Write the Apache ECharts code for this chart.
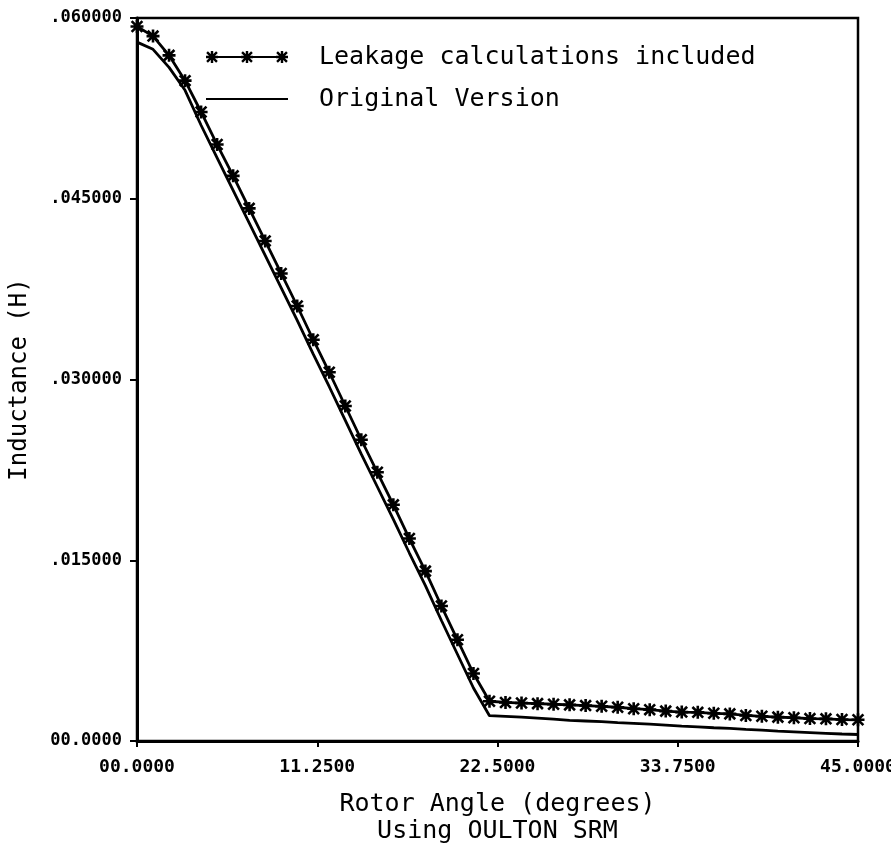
<!DOCTYPE html>
<html>
<head>
<meta charset="utf-8">
<script src="https://cdn.jsdelivr.net/npm/echarts@6/dist/echarts.min.js"></script>
<style>
  html, body { margin: 0; padding: 0; background: #fff; }
  #chart { width: 891px; height: 849px; }
</style>
</head>
<body>
<div id="chart"></div>
<script>
// rotor angle (degrees), one point per degree
const angles = [0, 1, 2, 3, 4, 5, 6, 7, 8, 9, 10, 11, 12, 13, 14, 15, 16, 17, 18, 19, 20, 21, 22,
  23, 24, 25, 26, 27, 28, 29, 30, 31, 32, 33, 34, 35, 36, 37, 38, 39, 40, 41, 42, 43, 44, 45];

// inductance (H) with leakage calculations
const leakage = [0.0593, 0.0585, 0.0569, 0.0548, 0.0522, 0.0495, 0.0469, 0.0442, 0.0415, 0.0388,
  0.0361, 0.0333, 0.0306, 0.0278, 0.0250, 0.0223, 0.0196, 0.0168, 0.0141, 0.0112, 0.0084, 0.0056,
  0.0033, 0.0032, 0.00315, 0.0031, 0.00305, 0.0030, 0.00294, 0.00288, 0.0028, 0.00268, 0.0026,
  0.00248, 0.0024, 0.00238, 0.0023, 0.00225, 0.00212, 0.00205, 0.00198, 0.00193, 0.00186,
  0.00184, 0.00178, 0.00176];

// inductance (H), original version
const original = [0.0580, 0.0574, 0.0559, 0.0540, 0.0511, 0.0484, 0.0457, 0.0430, 0.0403, 0.0376,
  0.0349, 0.0321, 0.0294, 0.0266, 0.0238, 0.0211, 0.0184, 0.0156, 0.0129, 0.0100, 0.0072, 0.0044,
  0.0021, 0.00205, 0.00198, 0.0019, 0.00182, 0.00172, 0.00166, 0.0016, 0.00152, 0.00146, 0.0014,
  0.00132, 0.00124, 0.00118, 0.0011, 0.00104, 0.00096, 0.0009, 0.00082, 0.00076, 0.0007,
  0.00064, 0.00058, 0.00054];

const xTickLabels = ['00.0000', '11.2500', '22.5000', '33.7500', '45.0000'];
const yTickLabels = ['00.0000', '.015000', '.030000', '.045000', '.060000'];

const seriesNames = ['Leakage calculations included', 'Original Version'];

const chart = echarts.init(document.getElementById('chart'));

// plotter style asterisk (12 x 12)
function star(cx) {
  const x = cx - 6;
  const p = (a, b) => (x + a) + ' ' + b;
  return 'M' + p(0, 4.8) + ' L' + p(12, 4.8) + ' L' + p(12, 7.2) + ' L' + p(0, 7.2) + ' Z ' +
    'M' + p(4.8, 0) + ' L' + p(7.2, 0) + ' L' + p(7.2, 12) + ' L' + p(4.8, 12) + ' Z ' +
    'M' + p(0.2, 1.9) + ' L' + p(1.9, 0.2) + ' L' + p(11.8, 10.1) + ' L' + p(10.1, 11.8) + ' Z ' +
    'M' + p(10.1, 0.2) + ' L' + p(11.8, 1.9) + ' L' + p(1.9, 11.8) + ' L' + p(0.2, 10.1) + ' Z ';
}
const starPath = 'path://' + star(6);
const legendPath = 'path://M0 5 L82 5 L82 7 L0 7 Z ' + star(6) + star(41) + star(76);

const mono = "'DejaVu Sans Mono', 'Liberation Mono', monospace";

const option = {
  animation: false,
  backgroundColor: '#fff',
  grid: {
    left: 137, top: 18, width: 721, height: 723,
    outerBoundsMode: 'none',
    containLabel: false,
    show: true, borderColor: '#000', borderWidth: 2.5
  },
  legend: {
    orient: 'vertical',
    left: 205, top: 44,
    padding: 0,
    itemWidth: 82, itemHeight: 12, itemGap: 16,
    textStyle: { fontFamily: mono, fontSize: 25, color: '#000', lineHeight: 26, padding: [0, 0, 0, 26] },
    data: [
      { name: seriesNames[0], icon: legendPath },
      { name: seriesNames[1], itemStyle: { opacity: 0 } }
    ]
  },
  xAxis: {
    type: 'value', min: 0, max: 45, interval: 11.25,
    name: 'Rotor Angle (degrees)\nUsing OULTON SRM',
    nameLocation: 'middle', nameGap: 50,
    nameTextStyle: { fontFamily: mono, fontSize: 25, color: '#000', lineHeight: 27 },
    axisLine: { lineStyle: { color: '#000', width: 3 } },
    axisTick: { length: 6, lineStyle: { color: '#000', width: 2 } },
    axisLabel: {
      margin: 17, color: '#000', fontFamily: mono, fontWeight: 'bold', fontSize: 18,
      formatter: v => xTickLabels[Math.round(v / 11.25)]
    },
    splitLine: { show: false }
  },
  yAxis: {
    type: 'value', min: 0, max: 0.06, interval: 0.015,
    name: 'Inductance (H)',
    nameLocation: 'middle', nameGap: 105,
    nameTextStyle: { fontFamily: mono, fontSize: 24, color: '#000' },
    axisLine: { show: true, lineStyle: { color: '#000', width: 3 } },
    axisTick: { show: true, length: 7, lineStyle: { color: '#000', width: 2 } },
    axisLabel: {
      margin: 15, color: '#000', fontFamily: mono, fontWeight: 'bold', fontSize: 17,
      formatter: v => yTickLabels[Math.round(v / 0.015)]
    },
    splitLine: { show: false }
  },
  series: [
    {
      name: seriesNames[0],
      type: 'line',
      data: angles.map((a, i) => [a, leakage[i]]),
      symbol: starPath,
      symbolSize: 13,
      showAllSymbol: true,
      lineStyle: { color: '#000', width: 2.8 },
      itemStyle: { color: '#000' },
      z: 3
    },
    {
      name: seriesNames[1],
      type: 'line',
      data: angles.map((a, i) => [a, original[i]]),
      symbol: 'none',
      lineStyle: { color: '#000', width: 2.8 },
      itemStyle: { color: '#000' },
      z: 2
    }
  ]
};

chart.setOption(option);
</script>
</body>
</html>
